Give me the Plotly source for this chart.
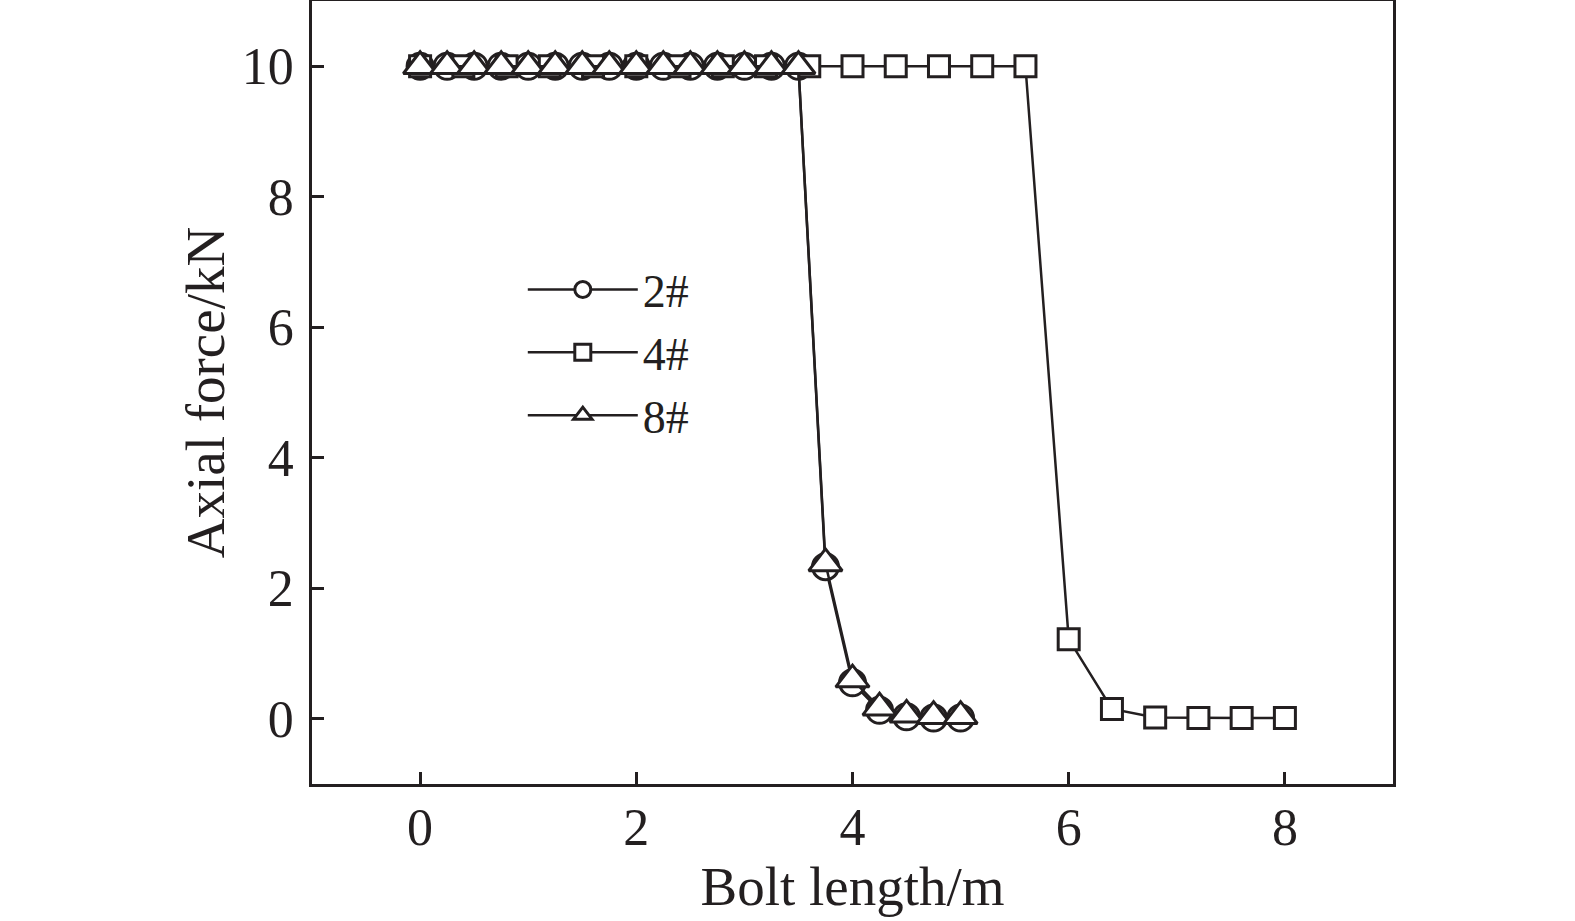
import plotly.graph_objects as go

x_2 = [0, 0.25, 0.5, 0.75, 1.0, 1.25, 1.5, 1.75, 2.0, 2.25, 2.5, 2.75, 3.0, 3.25, 3.5, 3.75, 4.0, 4.25, 4.5, 4.75, 5.0]
y_2 = [10, 10, 10, 10, 10, 10, 10, 10, 10, 10, 10, 10, 10, 10, 10, 2.33, 0.55, 0.13, 0.03, 0.01, 0.01]
x_4 = [0, 0.4, 0.8, 1.2, 1.6, 2.0, 2.4, 2.8, 3.2, 3.6, 4.0, 4.4, 4.8, 5.2, 5.6, 6.0, 6.4, 6.8, 7.2, 7.6, 8.0]
y_4 = [10, 10, 10, 10, 10, 10, 10, 10, 10, 10, 10, 10, 10, 10, 10, 1.22, 0.15, 0.02, 0.01, 0.01, 0.01]
x_8 = [0, 0.25, 0.5, 0.75, 1.0, 1.25, 1.5, 1.75, 2.0, 2.25, 2.5, 2.75, 3.0, 3.25, 3.5, 3.75, 4.0, 4.25, 4.5, 4.75, 5.0]
y_8 = [10, 10, 10, 10, 10, 10, 10, 10, 10, 10, 10, 10, 10, 10, 10, 2.38, 0.6, 0.17, 0.06, 0.04, 0.04]

x_ticks = [0, 2, 4, 6, 8]
y_ticks = [0, 2, 4, 6, 8, 10]

black = "#231f20"
font_family = "Liberation Serif"
fig = go.Figure()
common = dict(mode="lines+markers", line=dict(color=black, width=2.5))
fig.add_trace(go.Scatter(x=x_2, y=y_2, name="2#", marker=dict(symbol="circle", size=26, color="white",
                         line=dict(color=black, width=3)), **common))
fig.add_trace(go.Scatter(x=x_4, y=y_4, name="4#", marker=dict(symbol="square", size=21, color="white",
                         line=dict(color=black, width=3)), **common))
fig.add_trace(go.Scatter(x=x_8, y=y_8, name="8#", marker=dict(symbol="triangle-up", size=29, color="white",
                         line=dict(color=black, width=3)), **common))

axis_common = dict(showgrid=False, zeroline=False, showline=True, linecolor=black, linewidth=2.5,
                   mirror=True, ticks="inside", ticklen=12, tickwidth=2.5, tickcolor=black,
                   automargin=False,
                   tickfont=dict(family=font_family, size=52, color=black))
fig.update_xaxes(range=[-1, 9], tickvals=x_ticks, ticklabelstandoff=-4,
                 title=dict(text="Bolt length/m", font=dict(family=font_family, size=55, color=black), standoff=2),
                 **axis_common)
fig.update_yaxes(range=[-1, 11], tickvals=y_ticks, ticklabelstandoff=5,
                 title=dict(text="Axial force/kN", font=dict(family=font_family, size=55, color=black), standoff=0),
                 **axis_common)

fig.update_layout(
    width=1575, height=921,
    margin=dict(l=312, r=182, t=1, b=137),
    plot_bgcolor="white", paper_bgcolor="white",
    showlegend=True,
    legend=dict(x=0.195, y=0.678, xanchor="left", yanchor="top", bgcolor="rgba(0,0,0,0)",
                font=dict(family=font_family, size=46, color=black), itemwidth=110,
                tracegroupgap=0),
)
fig.write_html("out.html", config={"displayModeBar": False},
               post_script="document.body.style.margin='0px';")
